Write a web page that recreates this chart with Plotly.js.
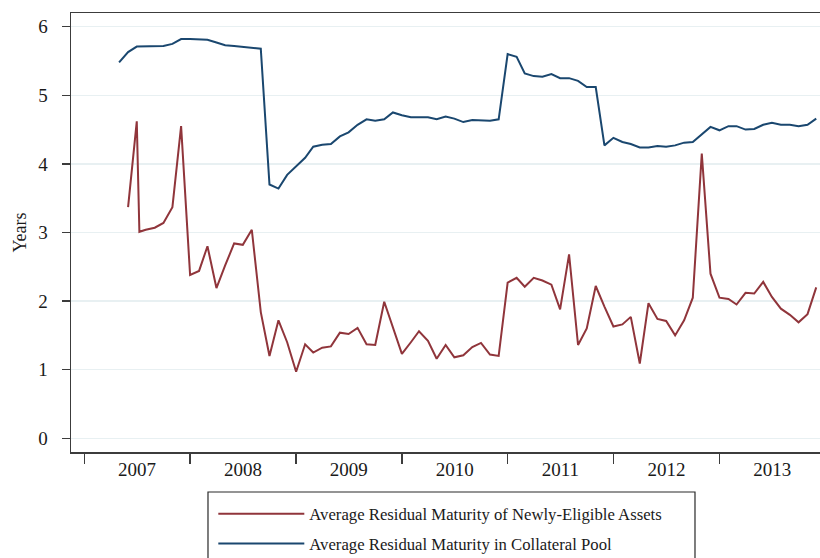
<!DOCTYPE html>
<html>
<head>
<meta charset="utf-8">
<script src="https://cdn.plot.ly/plotly-3.0.1.min.js"></script>
<style>
  html, body { margin: 0; padding: 0; background: #ffffff; }
  #chart { width: 820px; height: 558px; }
</style>
</head>
<body>
<div id="chart"></div>
<script>
// ---- Data ----
const poolDates = [
  '2007-05','2007-06','2007-07','2007-08','2007-09','2007-10','2007-11','2007-12',
  '2008-01','2008-02','2008-03','2008-04','2008-05','2008-06','2008-07','2008-08','2008-09','2008-10','2008-11','2008-12',
  '2009-01','2009-02','2009-03','2009-04','2009-05','2009-06','2009-07','2009-08','2009-09','2009-10','2009-11','2009-12',
  '2010-01','2010-02','2010-03','2010-04','2010-05','2010-06','2010-07','2010-08','2010-09','2010-10','2010-11','2010-12',
  '2011-01','2011-02','2011-03','2011-04','2011-05','2011-06','2011-07','2011-08','2011-09','2011-10','2011-11','2011-12',
  '2012-01','2012-02','2012-03','2012-04','2012-05','2012-06','2012-07','2012-08','2012-09','2012-10','2012-11','2012-12',
  '2013-01','2013-02','2013-03','2013-04','2013-05','2013-06','2013-07','2013-08','2013-09','2013-10','2013-11','2013-12'
];
const poolMaturity = [
  5.48, 5.63, 5.71, 5.71, 5.71, 5.72, 5.75, 5.82,
  5.82, 5.81, 5.81, 5.77, 5.73, 5.72, 5.71, 5.70, 5.68, 3.70, 3.64, 3.84,
  3.96, 4.09, 4.25, 4.28, 4.29, 4.40, 4.46, 4.57, 4.65, 4.63, 4.65, 4.75,
  4.71, 4.68, 4.68, 4.68, 4.65, 4.69, 4.66, 4.61, 4.64, 4.63, 4.63, 4.65,
  5.60, 5.56, 5.32, 5.28, 5.27, 5.31, 5.25, 5.25, 5.21, 5.12, 5.12, 4.27,
  4.38, 4.32, 4.29, 4.24, 4.24, 4.26, 4.25, 4.27, 4.31, 4.32, 4.43, 4.54,
  4.49, 4.55, 4.55, 4.50, 4.51, 4.57, 4.60, 4.57, 4.57, 4.55, 4.57, 4.66
];

const newDates = [
  '2007-06','2007-07','2007-07-10','2007-08','2007-09','2007-10','2007-11','2007-12',
  '2008-01','2008-02','2008-03','2008-04','2008-05','2008-06','2008-07','2008-08','2008-09','2008-10','2008-11','2008-12',
  '2009-01','2009-02','2009-03','2009-04','2009-05','2009-06','2009-07','2009-08','2009-09','2009-10','2009-11','2009-12',
  '2010-01','2010-02','2010-03','2010-04','2010-05','2010-06','2010-07','2010-08','2010-09','2010-10','2010-11','2010-12',
  '2011-01','2011-02','2011-03','2011-04','2011-05','2011-06','2011-07','2011-08','2011-09','2011-10','2011-11','2011-12',
  '2012-01','2012-02','2012-03','2012-04','2012-05','2012-06','2012-07','2012-08','2012-09','2012-10','2012-11','2012-12',
  '2013-01','2013-02','2013-03','2013-04','2013-05','2013-06','2013-07','2013-08','2013-09','2013-10','2013-11','2013-12'
];
const newMaturity = [
  3.37, 4.62, 3.01, 3.04, 3.07, 3.14, 3.37, 4.55,
  2.38, 2.44, 2.80, 2.19, 2.52, 2.84, 2.82, 3.04, 1.84, 1.20, 1.72, 1.40,
  0.97, 1.37, 1.25, 1.32, 1.34, 1.54, 1.52, 1.61, 1.37, 1.36, 1.99, 1.61,
  1.23, 1.40, 1.56, 1.42, 1.16, 1.36, 1.18, 1.21, 1.33, 1.39, 1.22, 1.20,
  2.27, 2.34, 2.21, 2.34, 2.30, 2.24, 1.88, 2.68, 1.36, 1.60, 2.22, 1.92,
  1.63, 1.66, 1.77, 1.09, 1.97, 1.74, 1.71, 1.50, 1.72, 2.05, 4.15, 2.40,
  2.05, 2.03, 1.95, 2.12, 2.11, 2.28, 2.06, 1.89, 1.80, 1.69, 1.81, 2.20
];

const yearLabels = ['2007','2008','2009','2010','2011','2012','2013'];
const yearLabelPos = ['2007-07-02','2008-07-02','2009-07-02','2010-07-02','2011-07-02','2012-07-02','2013-07-02'];
const yearBoundaries = ['2007-01-01','2008-01-01','2009-01-01','2010-01-01','2011-01-01','2012-01-01','2013-01-01'];
const yTicks = [0, 1, 2, 3, 4, 5, 6];
const seriesNames = ['Average Residual Maturity of Newly-Eligible Assets', 'Average Residual Maturity in Collateral Pool'];

// ---- Styling ----
const FONT = 'Liberation Serif, Times New Roman, serif';
const AXIS = '#3c3c3c';
const TEXT = '#1a1a1a';
const RED = '#90353B';
const BLUE = '#1A476F';

const traces = [
  { x: newDates, y: newMaturity, type: 'scatter', mode: 'lines', name: seriesNames[0],
    legendgroup: 'a', line: { color: RED, width: 2 } },
  { x: poolDates, y: poolMaturity, type: 'scatter', mode: 'lines', name: seriesNames[1],
    legendgroup: 'b', line: { color: BLUE, width: 2 } }
];

const layout = {
  width: 820, height: 558,
  margin: { l: 71, r: 0, t: 13, b: 106 },
  paper_bgcolor: '#ffffff', plot_bgcolor: '#ffffff',
  font: { family: FONT, size: 16, color: TEXT },
  showlegend: true,
  xaxis: {
    type: 'date',
    range: ['2006-11-16', '2013-12-14'],
    tickmode: 'array', tickvals: yearLabelPos, ticktext: yearLabels,
    ticks: '', showgrid: false, zeroline: false,
    showline: true, linecolor: AXIS, linewidth: 1.5, mirror: true,
    tickfont: { family: FONT, size: 19, color: TEXT },
    minor: { tickmode: 'array', tickvals: yearBoundaries, ticks: 'outside', ticklen: 10,
             tickwidth: 1.5, tickcolor: AXIS, showgrid: false }
  },
  yaxis: {
    range: [-0.2, 6.2],
    tickmode: 'array', tickvals: yTicks, ticktext: yTicks.map(String),
    ticks: 'outside', ticklen: 8, tickwidth: 1.5, tickcolor: AXIS,
    tickangle: 0, ticklabelstandoff: 10,
    showgrid: true, gridcolor: '#E8F0F2', gridwidth: 1.5,
    zeroline: false, showline: true, linecolor: AXIS, linewidth: 1.5,
    tickfont: { family: FONT, size: 19, color: TEXT },
    title: { text: 'Years', font: { family: FONT, size: 18, color: TEXT }, standoff: 7 }
  },
  legend: {
    x: 0.19, xref: 'paper', xanchor: 'left',
    y: 0.1105, yref: 'container', yanchor: 'top',
    orientation: 'v', bgcolor: 'rgba(0,0,0,0)', borderwidth: 0,
    itemwidth: 86, tracegroupgap: 5,
    font: { family: FONT, size: 16.7, color: TEXT }
  },
  shapes: [
    { type: 'rect', xref: 'paper', yref: 'paper', x0: 0.1829, x1: 0.8331, y0: -0.0911, y1: -0.30,
      line: { color: '#2a2a2a', width: 1.2 }, fillcolor: 'rgba(0,0,0,0)' }
  ]
};

Plotly.newPlot('chart', traces, layout, { displayModeBar: false, staticPlot: true });
</script>
</body>
</html>
